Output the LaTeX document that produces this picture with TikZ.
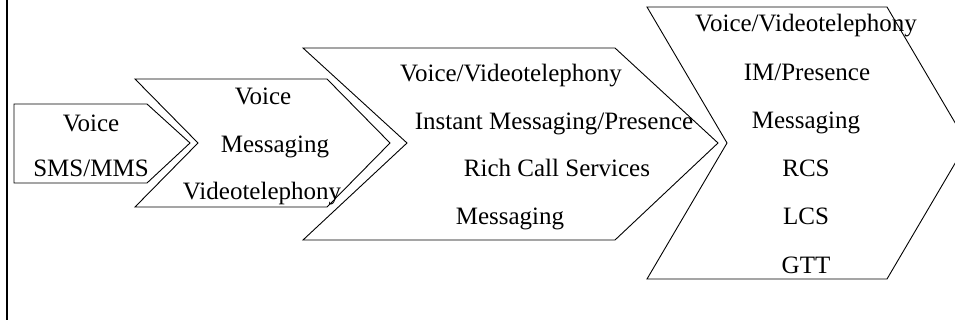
\documentclass[tikz,border=0pt]{standalone}
\usepackage{fontspec}
\setmainfont{Liberation Serif}
\begin{document}
\begin{tikzpicture}[x=1pt,y=-1pt,
  chev/.style={draw=black,line width=0.9pt,line join=miter,fill=white},
  lbl/.style={anchor=base,inner sep=0pt,font=\fontsize{25}{30}\selectfont}]
\useasboundingbox (0,0) rectangle (955,320);
\draw[line width=2.6pt] (7,0) -- (7,320);
% shape 1
\draw[chev] (14,104) -- (147,104) -- (190,143) -- (147,183) -- (14,183) -- cycle;
% shape 2
\draw[chev] (135,79) -- (327,79) -- (390,143) -- (327,207) -- (135,207) -- (198,143) -- cycle;
% shape 3
\draw[chev] (303,48) -- (615,48) -- (718,143) -- (615,240) -- (303,240) -- (407,143) -- cycle;
% shape 4
\draw[chev] (647,7) -- (887,7) -- (967,143) -- (887,279) -- (647,279) -- (727,143) -- cycle;
% texts
\node[lbl] (a1) at (91,132) {Voice};
\node[lbl] (a2) at (91,177) {SMS/MMS};
\node[lbl] (b1) at (263,105) {Voice};
\node[lbl] (b2) at (275,153) {Messaging};
\node[lbl] (b3) at (262,200) {Videotelephony};
\node[lbl] (c1) at (511,82) {Voice/Videotelephony};
\node[lbl] (c2) at (554,130) {Instant Messaging/Presence};
\node[lbl] (c3) at (557,177) {Rich Call Services};
\node[lbl] (c4) at (510,225) {Messaging};
\node[lbl] (d1) at (806,32) {Voice/Videotelephony};
\node[lbl] (d2) at (807,81) {IM/Presence};
\node[lbl] (d3) at (806,129) {Messaging};
\node[lbl] (d4) at (806,177) {RCS};
\node[lbl] (d5) at (806,225) {LCS};
\node[lbl] (d6) at (806,273) {GTT};
\end{tikzpicture}
\end{document}
